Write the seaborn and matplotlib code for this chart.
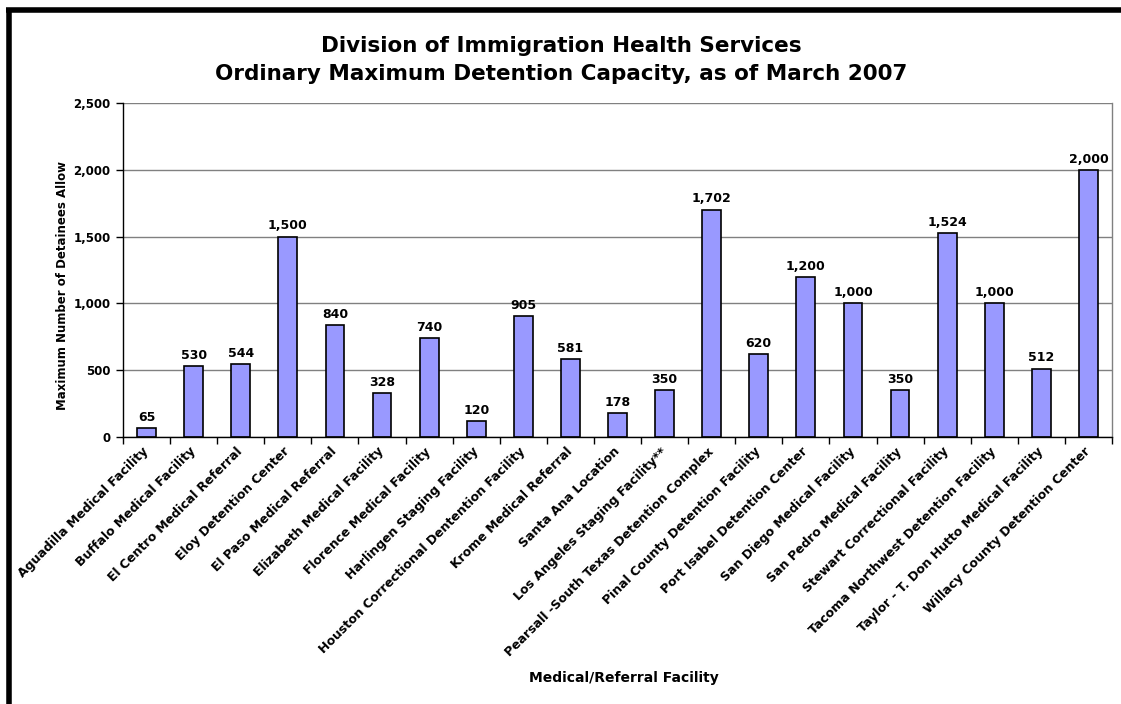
import matplotlib
matplotlib.use("Agg")
import matplotlib.pyplot as plt
import seaborn as sns
import pandas as pd
from matplotlib.lines import Line2D
from matplotlib.ticker import FuncFormatter, FixedLocator

facilities = [
    "Aguadilla Medical Facility", "Buffalo Medical Facility", "El Centro Medical Referral",
    "Eloy Detention Center", "El Paso Medical Referral", "Elizabeth Medical Facility",
    "Florence Medical Facility", "Harlingen Staging Facility",
    "Houston Correctional Dentention Facility", "Krome Medical Referral",
    "Santa Ana Location", "Los Angeles Staging Facility**",
    "Pearsall -South Texas Detention Complex", "Pinal County Detention Facility",
    "Port Isabel Detention Center", "San Diego Medical Facility",
    "San Pedro Medical Facility", "Stewart Correctional Facility",
    "Tacoma Northwest Detention Facility", "Taylor - T. Don Hutto Medical Facility",
    "Willacy County Detention Center",
]
capacity = [65, 530, 544, 1500, 840, 328, 740, 120, 905, 581, 178, 350,
            1702, 620, 1200, 1000, 350, 1524, 1000, 512, 2000]
y_ticks = [0, 500, 1000, 1500, 2000, 2500]

title_text = "Division of Immigration Health Services\nOrdinary Maximum Detention Capacity, as of March 2007"
xlabel_text = "Medical/Referral Facility"
ylabel_text = "Maximum Number of Detainees Allow"

sns.set_theme(style="white")
plt.rcParams['font.family'] = ['DejaVu Sans']
plt.rcParams['font.weight'] = 'bold'

df = pd.DataFrame({"facility": facilities, "capacity": capacity})

fig = plt.figure(figsize=(11.21, 7.04), dpi=100)
ax = fig.add_axes([123/1121, 1-437/704, (1112-123)/1121, (437-103)/704])

sns.barplot(data=df, x="facility", y="capacity", ax=ax, color="#9999FF",
            edgecolor="black", linewidth=1.2, width=0.4, saturation=1)

ax.set_ylim(0, 2500)
ax.set_xlim(-0.5, len(facilities) - 0.5)
ax.yaxis.set_major_locator(FixedLocator(y_ticks))
ax.yaxis.set_major_formatter(FuncFormatter(lambda v, p: f"{int(v):,}"))
ax.grid(axis="y", color="#808080", linewidth=1)
ax.set_axisbelow(True)

for i, v in enumerate(capacity):
    ax.annotate(f"{v:,}", xy=(i, v), xytext=(0, 3), textcoords="offset points",
                ha="center", va="bottom", fontsize=9, fontweight="bold", color="black")

ax.set_xticks(range(len(facilities)))
ax.set_xticklabels(facilities, rotation=45, ha="right", va="center",
                   rotation_mode="anchor", fontsize=9, fontweight="bold", color="black")
ax.tick_params(axis="x", which="major", length=0, pad=9)
ax.set_xticks([i - 0.5 for i in range(len(facilities) + 1)], minor=True)
ax.tick_params(axis="x", which="minor", length=5, width=1, color="black", direction="out", bottom=True)
ax.tick_params(axis="y", length=5, width=1, color="black", direction="out", left=True,
               labelsize=8.5, pad=4, labelcolor="black")
for lab in ax.get_yticklabels():
    lab.set_fontweight("bold")

ax.set_xlabel("")
ax.set_ylabel("")
for s in ["left", "bottom"]:
    ax.spines[s].set_color("black")
    ax.spines[s].set_linewidth(1)
ax.spines["right"].set_color("#808080")
ax.spines["right"].set_linewidth(1)
ax.spines["top"].set_visible(False)

fig.text(561/1121, 1-60/704, title_text, ha="center", va="center", fontsize=15.5,
         fontweight="bold", linespacing=1.5, color="black")
fig.text(624/1121, 1-678/704, xlabel_text, ha="center", va="center", fontsize=10,
         fontweight="bold", color="black")
fig.text(63/1121, 1-285/704, ylabel_text, ha="center", va="center", rotation=90,
         fontsize=8.5, fontweight="bold", color="black")

# outer frame (left and top)
fig.add_artist(Line2D([8.5/1121, 8.5/1121], [0, 1-9.5/704], color="black", linewidth=4,
                      solid_capstyle="butt", transform=fig.transFigure))
fig.add_artist(Line2D([6/1121, 1], [1-9.5/704, 1-9.5/704], color="black", linewidth=4,
                      solid_capstyle="butt", transform=fig.transFigure))

fig.savefig("out.png", dpi=100)
